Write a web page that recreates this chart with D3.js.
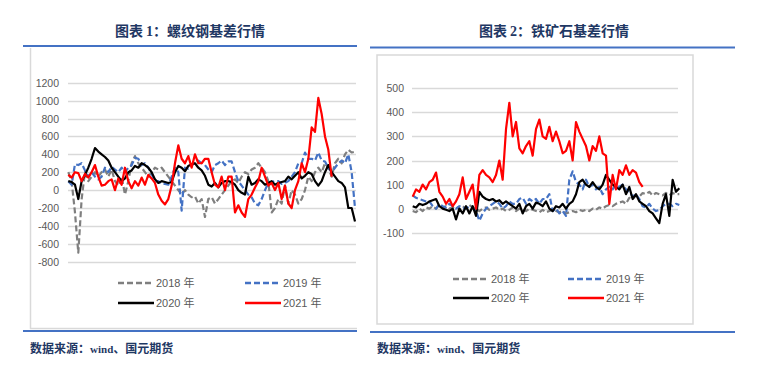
<!DOCTYPE html>
<html>
<head>
<meta charset="utf-8">
<title>基差行情</title>
<script src="https://cdn.jsdelivr.net/npm/d3@7"></script>
<style>
  body { margin: 0; background: #fff; }
  svg { display: block; }
  .tick-lbl { font-family: "Liberation Sans", Arial, sans-serif; font-size: 10.5px; fill: #595959; }
  .leg-lbl { font-family: "Liberation Sans", Arial, "Noto Sans CJK SC", sans-serif; font-size: 11px; fill: #595959; }
  .title { font-family: "Noto Sans CJK SC", sans-serif; font-weight: 700; font-size: 14px; fill: #1F3864; }
  .src { font-family: "Noto Sans CJK SC", sans-serif; font-weight: 700; font-size: 12px; fill: #1F3864; }
  .latin { font-family: "Liberation Serif", "Times New Roman", serif; font-weight: 700; }
</style>
</head>
<body>
<script>
// series names + colours
var seriesNames = ["2018 年", "2019 年", "2020 年", "2021 年"];
var seriesColors = ["#7F7F7F", "#4472C4", "#000000", "#FF0000"];
var seriesDash = ["6,3", "6,3", null, null];
var STEP = 3; // one sample every 3 trading days

// 螺纹钢基差 (rebar basis)
var rebar2018 = [200, 100, -250, -700, -100, 200, 100, 150, 200, 150,
  200, 230, 150, 230, 100, 50, 150, -50, 100, 300,
  380, 300, 250, 200, 150, 200, 250, 230, 250, 200,
  150, 100, 50, 0, -50, 0, -50, -80, -70, -150,
  -100, -300, -100, -80, -150, -100, -50, 0, 50, 100,
  120, 80, 150, 200, 180, 230, 250, 300, 250, 200,
  100, -250, -200, -100, -150, 50, -150, 0, -50, -150,
  -100, 0, 150, 100, 200, 250, 200, 300, 250, 150,
  300, 350, 300, 400, 450, 420, 430];
var rebar2019 = [100, 60, 290, 280, 300, 220, 150, 200, 150, 120,
  150, 250, 200, 260, 230, 200, 250, 200, 250, 280,
  360, 350, 280, 300, 250, 180, 100, 100, 70, 70,
  60, 150, 250, 200, -230, 250, 240, 280, 300, 330,
  300, 280, 230, 200, 280, 300, 330, 280, 320, 320,
  200, 100, 50, 0, -50, -80, -150, -170, -100, 0,
  80, 90, 100, 100, 70, 80, 100, 150, 200, 300,
  300, 420, 350, 350, 330, 420, 330, 320, 250, 200,
  250, 300, 330, 300, 400, 200, -200];
var rebar2020 = [100, 90, 60, -100, 100, 170, 250, 350, 470, 430,
  400, 370, 330, 250, 200, 150, 100, 130, 200, 220,
  270, 250, 300, 280, 250, 200, 120, 80, 100, 90,
  80, 90, 200, 270, 250, 210, 270, 290, 300, 250,
  220, 160, 60, 40, 80, 30, 80, 100, 100, 90,
  60, 0, -30, -50, 150, 60, 80, 120, 100, 60,
  80, 100, 60, 80, 90, 100, 150, 120, 160, 200,
  130, 160, 200, 180, 100, 50, 100, 200, 280, 200,
  150, 100, 80, 30, -200, -200, -350];
var rebar2021 = [170, 140, 200, 190, 100, 180, 140, 200, 280, 150,
  50, 60, 100, 120, 0, 130, 60, 250, 100, 20,
  100, 50, 140, 60, 170, 130, 80, -50, -120, -160,
  -100, 50, 300, 500, 350, 300, 380, 250, 400, 300,
  300, 350, 350, 200, 60, 30, 150, 0, 150, 150,
  -250, -170, -250, -300, -100, -50, 30, 100, 250, 150,
  50, 80, 0, 80, -100, 50, -150, -200, 0, 100,
  300, 200, 350, 700, 650, 1030, 850, 600, 450, 150];
var rebarTicks = [-800, -600, -400, -200, 0, 200, 400, 600, 800, 1000, 1200];

// 铁矿石基差 (iron ore basis)
var ore2018 = [-10, -15, 0, -10, 5, 0, 10, 0, 15, 5,
  10, 0, 5, 10, -5, 10, 0, 15, 5, 0,
  -10, 0, 5, -5, 0, 5, -5, 0, -10, -5,
  5, -10, 0, -5, -10, 0, -5, -10, -15, -5,
  -15, -10, -5, -10, -15, -10, -20, -15, -10, -15,
  -5, -10, -5, -10, 0, -5, 5, 0, 10, 15,
  10, 20, 25, 30, 20, 45, 40, 55, 50, 65,
  60, 70, 55, 65, 60, 55, 65, 55, 65, 60, 60];
var ore2019 = [55, 45, 40, 35, 30, 30, 10, 0, 20, 10,
  5, 20, 10, 0, 10, 5, 0, 10, 5, -10,
  -50, -20, 0, 10, 20, 30, 20, 0, 10, 30,
  20, 20, 40, 45, 20, 40, 30, 40, 20, 40,
  40, 60, -10, 0, -20, -10, -30, 120, 155, 110,
  100, 80, 120, 90, 100, 80, 90, 60, 80, 90,
  80, 100, 90, 100, 80, 70, 50, 60, 40, 10,
  5, 20, 0, -10, -5, 10, 20, 20, 10, 20, 15];
var ore2020 = [10, 5, 20, 15, 20, 30, 35, 40, 10, 0,
  -5, -10, 0, -45, 0, -20, 10, -20, 10, -30,
  70, 50, 40, 35, 40, 30, 35, 20, 30, 20,
  10, 0, 20, -20, 10, 20, 0, 25, 20, 10,
  30, 0, -10, 10, 5, 20, 0, 20, 30, 60,
  110, 120, 100, 90, 110, 90, 80, 100, 140, 120,
  100, 90, 80, 100, 60, 90, 40, 60, 30, 20,
  10, -10, -20, -40, -60, 20, 60, -30, 120, 70, 85];
var ore2021 = [50, 80, 70, 100, 80, 110, 120, 150, 70, 50,
  20, 40, 10, 30, 60, 130, 40, 70, 100, 0,
  140, 160, 140, 130, 110, 140, 200, 120, 330, 440,
  300, 360, 250, 230, 260, 280, 220, 330, 370, 300,
  290, 340, 280, 320, 280, 230, 240, 280, 200, 360,
  320, 290, 260, 200, 260, 240, 300, 230, 220, 20,
  140, 80, 160, 140, 180, 140, 160, 150, 110, 90];
var oreTicks = [-100, 0, 100, 200, 300, 400, 500];

var W = 757, H = 367;
var svg = d3.select("body").append("svg").attr("width", W).attr("height", H);

function panel(cfg) {
  var g = svg.append("g");
  var x = d3.scaleLinear().domain(cfg.xDomain).range(cfg.xRange);
  var y = d3.scaleLinear().domain(cfg.yDomain).range(cfg.yRange);

  // frame
  if (cfg.box) {
    g.append("rect").attr("x", cfg.box[0]).attr("y", cfg.box[1])
      .attr("width", cfg.box[2] - cfg.box[0]).attr("height", cfg.box[3] - cfg.box[1])
      .attr("fill", "none").attr("stroke", "#D9D9D9").attr("stroke-width", 1.5);
  }

  // grid + labels
  g.selectAll(".grid").data(cfg.ticks).enter().append("line")
    .attr("x1", cfg.gridX[0]).attr("x2", cfg.gridX[1])
    .attr("y1", d => Math.round(y(d)) + 0.5).attr("y2", d => Math.round(y(d)) + 0.5)
    .attr("stroke", "#D9D9D9").attr("stroke-width", 1.3);
  g.selectAll(".tick-lbl").data(cfg.ticks).enter().append("text")
    .attr("class", "tick-lbl")
    .attr("x", cfg.labelX).attr("y", d => y(d) + 4)
    .attr("text-anchor", "end")
    .text(d => d);

  var line = d3.line().x((d, i) => x(i * STEP)).y(d => y(d));
  cfg.series.forEach(function(s, k) {
    g.append("path").datum(s)
      .attr("d", line)
      .attr("fill", "none")
      .attr("stroke", seriesColors[k])
      .attr("stroke-width", 2.2)
      .attr("stroke-linejoin", "round")
      .attr("stroke-dasharray", seriesDash[k]);
  });

  // legend
  seriesNames.forEach(function(n, k) {
    var lx = cfg.legX[k % 2], ly = cfg.legY[Math.floor(k / 2)];
    g.append("line").attr("x1", lx).attr("x2", lx + 36).attr("y1", ly).attr("y2", ly)
      .attr("stroke", seriesColors[k]).attr("stroke-width", 2.5)
      .attr("stroke-dasharray", seriesDash[k]);
    g.append("text").attr("class", "leg-lbl").attr("x", lx + 38).attr("y", ly + 4).text(n);
  });

  // title + rules + source
  var t = g.append("text").attr("class", "title").attr("x", cfg.titleX).attr("y", 36)
    .attr("text-anchor", "middle");
  t.append("tspan").text("图表 ");
  t.append("tspan").attr("class", "latin").text(cfg.num);
  t.append("tspan").text("：" + cfg.title);

  g.append("line").attr("x1", cfg.rule[0]).attr("x2", cfg.rule[1])
    .attr("y1", cfg.ruleY[0]).attr("y2", cfg.ruleY[0]).attr("stroke", "#4472C4").attr("stroke-width", 2);
  g.append("line").attr("x1", cfg.rule[0]).attr("x2", cfg.rule[1])
    .attr("y1", cfg.ruleY[1]).attr("y2", cfg.ruleY[1]).attr("stroke", "#4472C4").attr("stroke-width", 2);

  var s = g.append("text").attr("class", "src").attr("x", cfg.srcX).attr("y", 353);
  s.append("tspan").text("数据来源：");
  s.append("tspan").attr("class", "latin").style("font-size", "11px").text("wind");
  s.append("tspan").text("、国元期货");
}

// left: rebar (frame only shows its left and bottom edges)
svg.append("line").attr("x1", 30.5).attr("x2", 30.5).attr("y1", 48).attr("y2", 329)
  .attr("stroke", "#D9D9D9").attr("stroke-width", 1.5);
svg.append("line").attr("x1", 30).attr("x2", 357).attr("y1", 328.5).attr("y2", 328.5)
  .attr("stroke", "#D9D9D9").attr("stroke-width", 1.5);
panel({
  num: "1", title: "螺纹钢基差行情", titleX: 190,
  xDomain: [0, 258], xRange: [68.3, 355],
  yDomain: [-800, 1200], yRange: [261.7, 82.7],
  ticks: rebarTicks, gridX: [68, 356], labelX: 59,
  series: [rebar2018, rebar2019, rebar2020, rebar2021],
  legX: [118, 245], legY: [283, 303],
  rule: [23, 357], ruleY: [46, 331], srcX: 30
});

// right: iron ore
panel({
  num: "2", title: "铁矿石基差行情", titleX: 554,
  box: [377, 55, 693, 324],
  xDomain: [0, 240], xRange: [412.7, 679.3],
  yDomain: [-100, 500], yRange: [232.7, 88.3],
  ticks: oreTicks, gridX: [412, 678], labelX: 404,
  series: [ore2018, ore2019, ore2020, ore2021],
  legX: [453, 568], legY: [279, 298],
  rule: [370, 735], ruleY: [47.5, 332], srcX: 377
});
</script>
</body>
</html>
